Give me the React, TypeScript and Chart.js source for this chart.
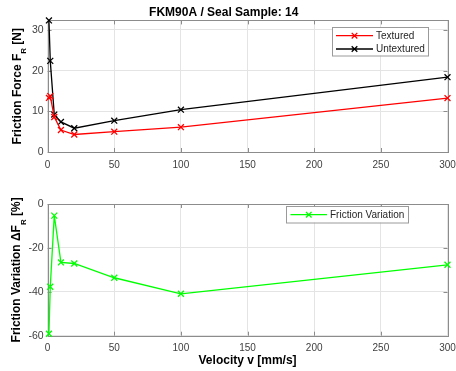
import { useEffect, useRef } from 'react';
import { Chart, registerables } from 'chart.js';

Chart.register(...registerables);

const velocity = [1, 2, 5, 10, 20, 50, 100, 300];
const textured = [13.3, 13.75, 8.6, 5.4, 4.3, 5.0, 6.1, 13.25];
const untextured = [32.35, 22.4, 9.2, 7.4, 5.85, 7.7, 10.4, 18.4];
const variation = [-59.1, -37.7, -5.3, -26.6, -27.1, -33.6, -40.9, -27.7];

const xTicks = [0, 50, 100, 150, 200, 250, 300];
const forceTicks = [0, 10, 20, 30];
const variationTicks = [-60, -40, -20, 0];

const titleText = 'FKM90A / Seal Sample: 14';
const xTitle = 'Velocity v [mm/s]';

const FONT = "'Liberation Sans', Arial, Helvetica, sans-serif";
const FRAME = '#8c8c8c';
const GRID = '#e4e4e4';
const TICK_TEXT = '#404040';
const LEGEND_TEXT = '#262626';

type LegendItem = { label: string; color: string };

function framePlugin(xVals: number[], yVals: number[]) {
  return {
    id: 'frameBox',
    beforeDatasetsDraw(chart: any) {
      const { ctx, chartArea: a, scales } = chart;
      ctx.save();
      ctx.strokeStyle = FRAME;
      ctx.lineWidth = 1;
      ctx.beginPath();
      const tl = 4;
      xVals.forEach((v) => {
        const px = Math.round(scales.x.getPixelForValue(v)) + 0.5;
        ctx.moveTo(px, a.bottom);
        ctx.lineTo(px, a.bottom - tl);
        ctx.moveTo(px, a.top);
        ctx.lineTo(px, a.top + tl);
      });
      yVals.forEach((v) => {
        const py = Math.round(scales.y.getPixelForValue(v)) + 0.5;
        ctx.moveTo(a.left, py);
        ctx.lineTo(a.left + tl, py);
        ctx.moveTo(a.right, py);
        ctx.lineTo(a.right - tl, py);
      });
      ctx.stroke();
      ctx.strokeRect(
        Math.round(a.left) + 0.5,
        Math.round(a.top) + 0.5,
        Math.round(a.right) - Math.round(a.left),
        Math.round(a.bottom) - Math.round(a.top)
      );
      ctx.restore();
    },
  };
}

function yTitlePlugin(main: string, sub: string, rest: string, x: number) {
  return {
    id: 'yTitleSub',
    afterDraw(chart: any) {
      const { ctx, chartArea: a } = chart;
      const cy = (a.top + a.bottom) / 2;
      ctx.save();
      ctx.translate(x, cy);
      ctx.rotate(-Math.PI / 2);
      ctx.fillStyle = '#000';
      ctx.textBaseline = 'alphabetic';
      ctx.textAlign = 'left';
      const mainFont = `bold 12px ${FONT}`;
      const subFont = `bold 8px ${FONT}`;
      ctx.font = mainFont;
      const w1 = ctx.measureText(main).width;
      const w3 = ctx.measureText(rest).width;
      ctx.font = subFont;
      const w2 = ctx.measureText(sub).width;
      let sx = -(w1 + w2 + w3) / 2;
      ctx.font = mainFont;
      ctx.fillText(main, sx, 0);
      sx += w1;
      ctx.font = subFont;
      ctx.fillText(sub, sx, 5.5);
      sx += w2;
      ctx.font = mainFont;
      ctx.fillText(rest, sx, 0);
      ctx.restore();
    },
  };
}

function legendPlugin(
  items: LegendItem[],
  box: { left: number; top: number; width: number; height: number },
  rowYs: number[],
  lineX0: number,
  lineX1: number,
  textX: number
) {
  return {
    id: 'boxLegend',
    afterDraw(chart: any) {
      const { ctx } = chart;
      ctx.save();
      ctx.fillStyle = '#fff';
      ctx.fillRect(box.left, box.top, box.width, box.height);
      ctx.strokeStyle = '#9a9a9a';
      ctx.lineWidth = 1;
      ctx.strokeRect(box.left + 0.5, box.top + 0.5, box.width, box.height);
      items.forEach((it, i) => {
        const y = rowYs[i];
        ctx.strokeStyle = it.color;
        ctx.lineWidth = 1.3;
        ctx.beginPath();
        ctx.moveTo(lineX0, y);
        ctx.lineTo(lineX1, y);
        const mx = (lineX0 + lineX1) / 2;
        const r = 2.8;
        ctx.moveTo(mx - r, y - r);
        ctx.lineTo(mx + r, y + r);
        ctx.moveTo(mx + r, y - r);
        ctx.lineTo(mx - r, y + r);
        ctx.stroke();
        ctx.fillStyle = LEGEND_TEXT;
        ctx.font = `10px ${FONT}`;
        ctx.textBaseline = 'middle';
        ctx.textAlign = 'left';
        ctx.fillText(it.label, textX, y + 0.5);
      });
      ctx.restore();
    },
  };
}

function lineDataset(label: string, data: number[], color: string) {
  return {
    label,
    data: velocity.map((v, i) => ({ x: v, y: data[i] })),
    borderColor: color,
    backgroundColor: color,
    borderWidth: 1.3,
    pointStyle: 'crossRot',
    pointRadius: 4.2,
    pointBorderWidth: 1.3,
    pointBorderColor: color,
    tension: 0,
    clip: false as any,
  };
}

function xScale(withTitle: boolean, height: number) {
  return {
    type: 'linear' as const,
    min: 0,
    max: 300,
    afterBuildTicks: (s: any) => {
      s.ticks = xTicks.map((v) => ({ value: v }));
    },
    afterFit: (s: any) => {
      s.height = height;
      s.paddingLeft = 0;
      s.paddingRight = 0;
    },
    grid: { color: GRID, lineWidth: 1, drawTicks: false },
    border: { display: false },
    ticks: {
      color: TICK_TEXT,
      font: { family: FONT, size: 10 },
      padding: 7,
      maxRotation: 0,
      autoSkip: false,
      callback: (v: any) => String(v),
    },
    title: {
      display: withTitle,
      text: xTitle,
      color: '#000',
      font: { family: FONT, size: 12, weight: 'bold' as const },
      padding: { top: 0, bottom: 3 },
    },
  };
}

function yScale(min: number, max: number, ticks: number[]) {
  return {
    type: 'linear' as const,
    min,
    max,
    afterBuildTicks: (s: any) => {
      s.ticks = ticks.map((v) => ({ value: v }));
    },
    afterFit: (s: any) => {
      s.width = 47.6;
      s.paddingTop = 0;
      s.paddingBottom = 0;
    },
    grid: { color: GRID, lineWidth: 1, drawTicks: false },
    border: { display: false },
    ticks: {
      color: TICK_TEXT,
      font: { family: FONT, size: 10.5 },
      padding: 4,
      autoSkip: false,
      callback: (v: any) => String(v),
    },
  };
}

export default function App() {
  const topRef = useRef<HTMLCanvasElement>(null);
  const botRef = useRef<HTMLCanvasElement>(null);

  useEffect(() => {
    if (!topRef.current || !botRef.current) return;
    const top = new Chart(topRef.current, {
      type: 'line',
      data: {
        datasets: [
          lineDataset('Textured', textured, '#ff0000'),
          lineDataset('Untextured', untextured, '#000000'),
        ] as any,
      },
      options: {
        responsive: false,
        animation: false,
        layout: { padding: { left: 0, right: 8.5, top: 0, bottom: 0 } },
        scales: {
          x: xScale(false, 33) as any,
          y: yScale(0, 32.35, forceTicks) as any,
        },
        plugins: {
          legend: { display: false },
          tooltip: { enabled: false },
          title: {
            display: true,
            text: titleText,
            color: '#000',
            font: { family: FONT, size: 12, weight: 'bold' },
            padding: { top: 5, bottom: 1 },
          },
        },
      },
      plugins: [
        framePlugin(xTicks, forceTicks),
        yTitlePlugin('Friction Force F', 'R', ' [N]', 20.5),
        legendPlugin(
          [
            { label: 'Textured', color: '#ff0000' },
            { label: 'Untextured', color: '#000000' },
          ],
          { left: 332, top: 27, width: 96, height: 28.5 },
          [35.7, 49],
          336,
          373,
          376
        ),
      ],
    });

    const bot = new Chart(botRef.current, {
      type: 'line',
      data: {
        datasets: [lineDataset('Friction Variation', variation, '#00ff00')] as any,
      },
      options: {
        responsive: false,
        animation: false,
        layout: { padding: { left: 0, right: 8.5, top: 19, bottom: 0 } },
        scales: {
          x: xScale(true, 35.3) as any,
          y: yScale(-60, 0, variationTicks) as any,
        },
        plugins: {
          legend: { display: false },
          tooltip: { enabled: false },
          title: { display: false },
        },
      },
      plugins: [
        framePlugin(xTicks, variationTicks),
        yTitlePlugin('Friction Variation \u0394F', 'R', ' [%]', 20),
        legendPlugin(
          [{ label: 'Friction Variation', color: '#00ff00' }],
          { left: 286, top: 21, width: 122, height: 16.5 },
          [29.7],
          290.5,
          327,
          330
        ),
      ],
    });

    return () => {
      top.destroy();
      bot.destroy();
    };
  }, []);

  return (
    <div
      style={{
        position: 'fixed',
        left: 0,
        top: 0,
        width: 456,
        height: 371,
        background: '#fff',
      }}
    >
      <canvas ref={topRef} width={456} height={185} style={{ display: 'block' }} />
      <canvas ref={botRef} width={456} height={186} style={{ display: 'block' }} />
    </div>
  );
}
